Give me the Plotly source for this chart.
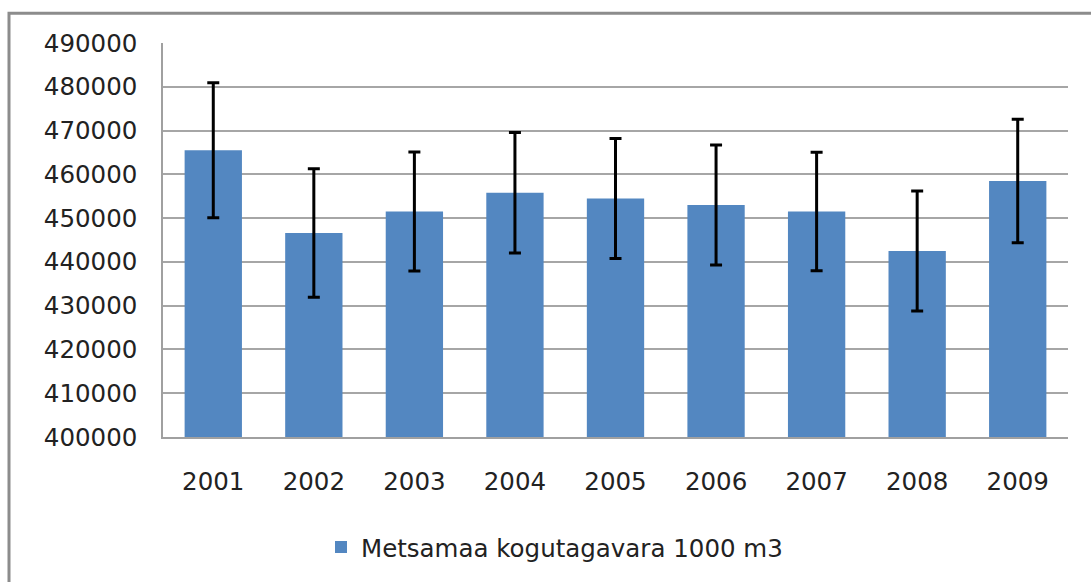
import plotly.graph_objects as go

years = ["2001", "2002", "2003", "2004", "2005", "2006", "2007", "2008", "2009"]
values = [465500, 446600, 451500, 455800, 454500, 453000, 451500, 442500, 458500]
errors = [15400, 14650, 13600, 13750, 13700, 13700, 13550, 13700, 14100]
y_ticks = [400000, 410000, 420000, 430000, 440000, 450000, 460000, 470000, 480000, 490000]
series_name = "Metsamaa kogutagavara 1000 m3"

W, H = 1091, 582
L, R, T, B = 163, 1068, 43, 440

def px_x(p):
    return (p - L) / (R - L)

def px_y(p):
    return (B - p) / (B - T)

font = dict(family="DejaVu Sans", size=24.5, color="#222222")

fig = go.Figure()
fig.add_trace(go.Bar(
    x=years, y=values, name=series_name,
    marker=dict(color="#5387C1", line=dict(width=0)),
    error_y=dict(type="data", array=errors, visible=True, color="#000000",
                 thickness=3, width=6),
    showlegend=True,
))

fig.update_layout(
    width=W, height=H,
    margin=dict(l=L, r=W - R, t=T, b=H - B, pad=0),
    paper_bgcolor="white", plot_bgcolor="white",
    bargap=0.43,
    font=font,
    showlegend=True,
    legend=dict(orientation="h", x=px_x(321), xanchor="left", y=px_y(551), yanchor="middle",
                font=font, bgcolor="rgba(0,0,0,0)", itemsizing="constant"),
    xaxis=dict(showgrid=False, showline=True, linecolor="#A0A0A0", linewidth=1.5,
               ticks="", tickfont=font, ticklabelstandoff=22),
    yaxis=dict(range=[400000, 490000], tickvals=y_ticks, ticktext=[str(v) for v in y_ticks],
               showgrid=True, gridcolor="#A6A6A6", gridwidth=1.5,
               showline=True, linecolor="#A0A0A0", linewidth=1.5,
               ticks="", tickfont=font, ticklabelstandoff=19, zeroline=False),
    shapes=[dict(type="rect", xref="paper", yref="paper",
                 x0=px_x(9), x1=px_x(1120), y0=px_y(620), y1=px_y(13),
                 line=dict(color="#8C8C8C", width=3), fillcolor="rgba(0,0,0,0)", layer="below")],
)

fig.write_html("out.html",
               config={"displayModeBar": False},
               post_script="document.body.style.margin='0';document.body.style.overflow='hidden';")
